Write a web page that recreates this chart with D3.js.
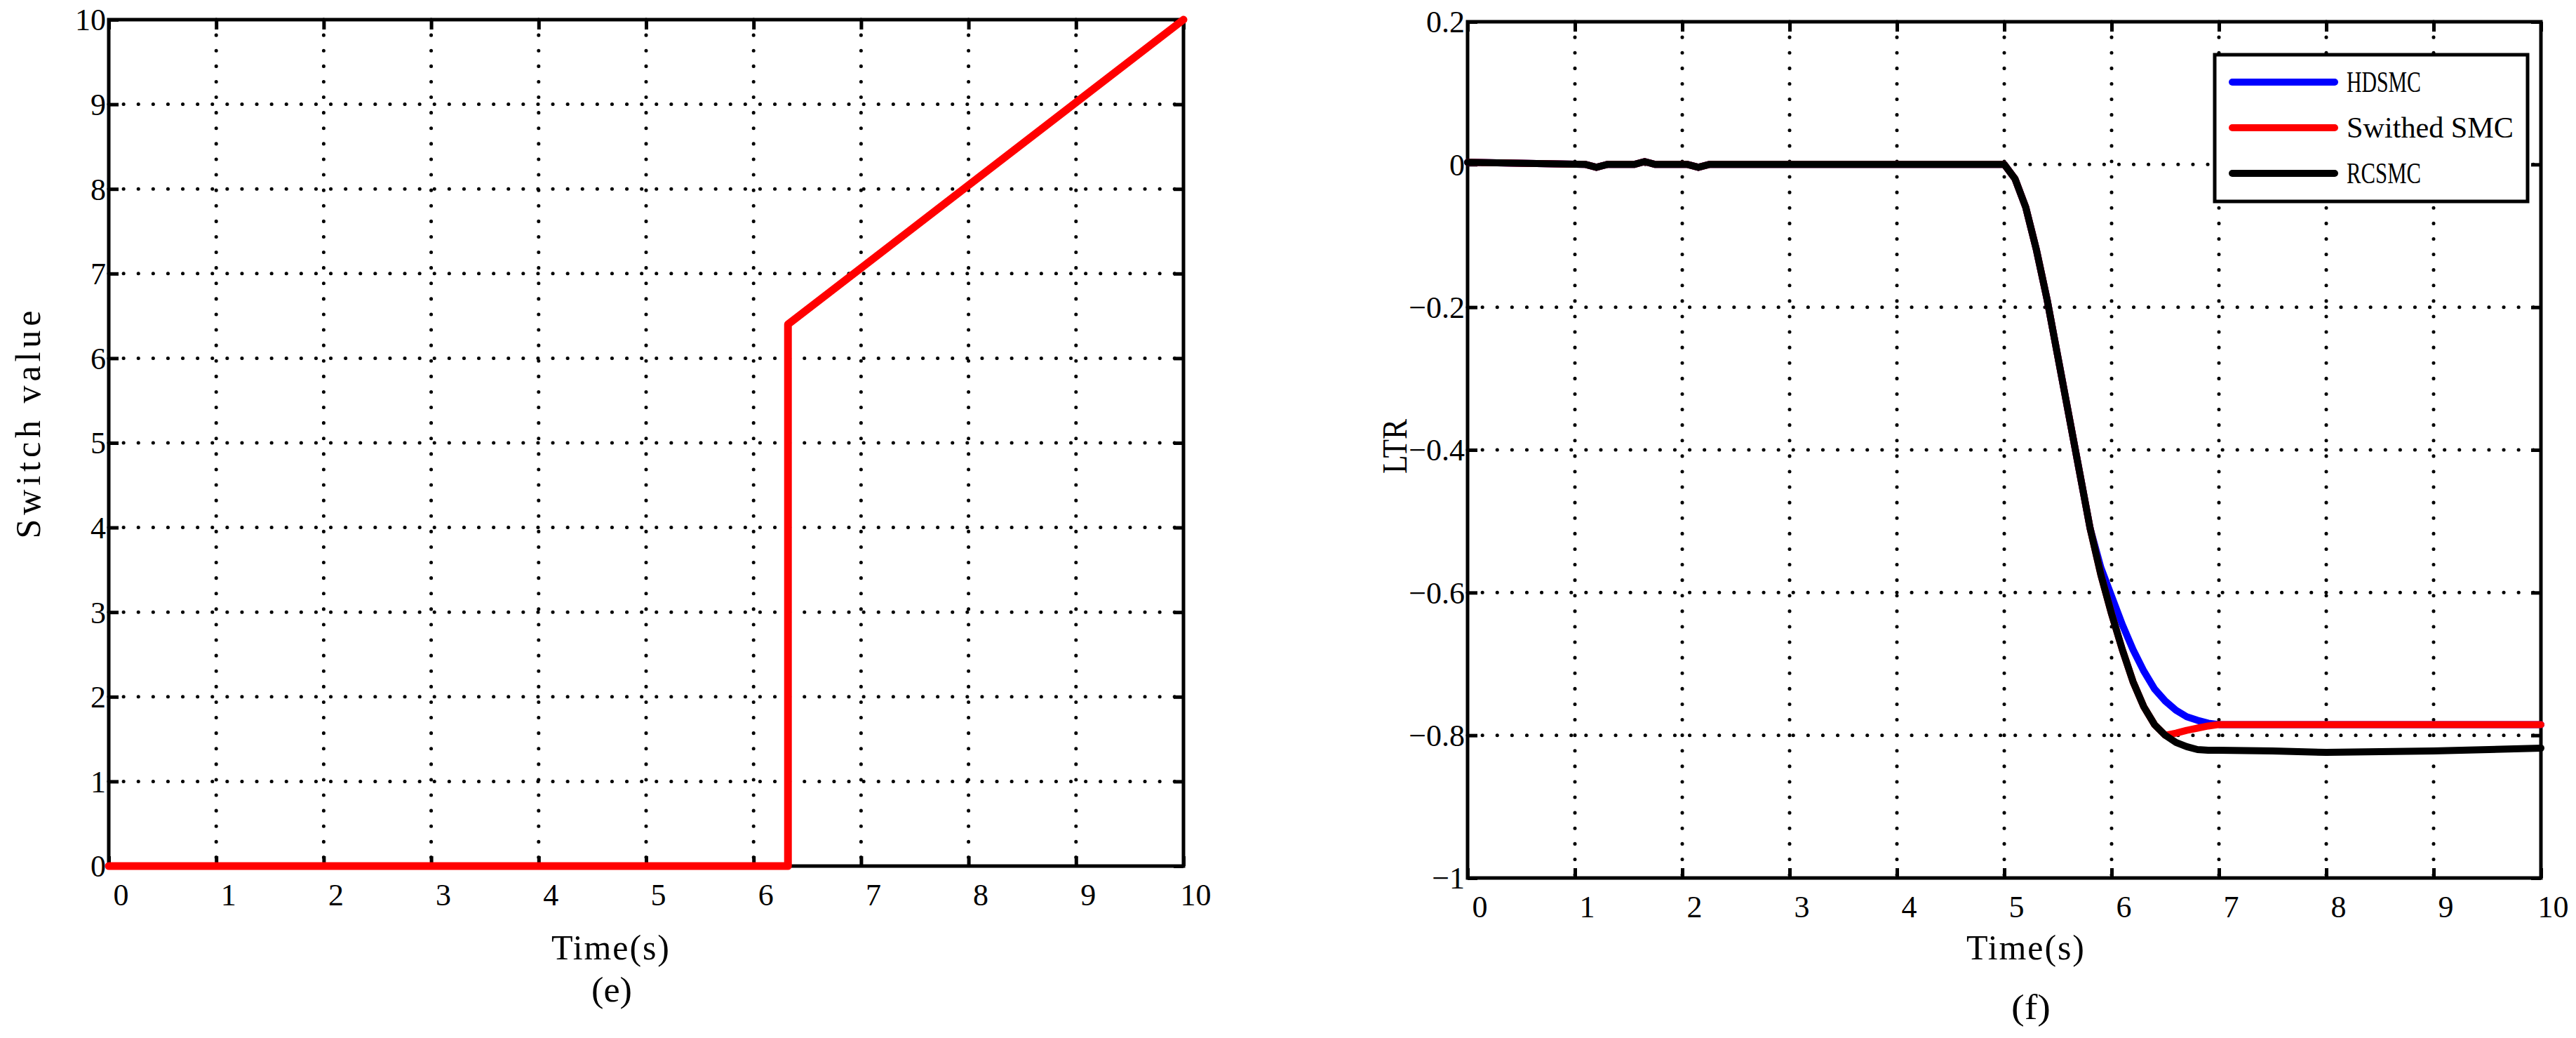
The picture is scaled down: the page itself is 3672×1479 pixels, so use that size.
<!DOCTYPE html>
<html><head><meta charset="utf-8">
<script src="https://cdn.jsdelivr.net/npm/d3@7"></script>
<style>
html,body{margin:0;padding:0;background:#fff;}
svg{display:block;}
text{font-family:"Liberation Serif","DejaVu Serif",serif;fill:#000;}
</style></head><body>
<svg id="chart" width="3672" height="1479"></svg>
<script>
// ---- data: panel (e) ----
const switchTime = [0, 6.32, 6.32, 10];
const switchValue = [0, 0, 6.4, 10];
const eXTicks = [0,1,2,3,4,5,6,7,8,9,10];
const eYTicks = [0,1,2,3,4,5,6,7,8,9,10];

// ---- data: panel (f) ----
const ltrTime = [0, 1.1, 1.2, 1.3, 1.55, 1.65, 1.75, 2.05, 2.15, 2.25, 4, 5,
  5.1, 5.2, 5.3, 5.4, 5.5, 5.6, 5.7, 5.8, 5.9, 6.0, 6.1, 6.2, 6.3, 6.4, 6.5,
  6.6, 6.7, 6.8, 6.9, 7.0, 7.5, 8.0, 9.0, 10];
const hdsmc = [0.003, 0, -0.004, 0, 0, 0.004, 0, 0, -0.004, 0, 0, 0,
  -0.02, -0.06, -0.12, -0.19, -0.27, -0.35, -0.43, -0.51, -0.565, -0.605, -0.645, -0.68, -0.71, -0.735, -0.752,
  -0.765, -0.774, -0.779, -0.783, -0.785, -0.785, -0.785, -0.785, -0.785];
const switchedSmc = [0.003, 0, -0.004, 0, 0, 0.004, 0, 0, -0.004, 0, 0, 0,
  -0.02, -0.06, -0.12, -0.19, -0.27, -0.35, -0.43, -0.51, -0.575, -0.63, -0.68, -0.725, -0.76, -0.785, -0.80,
  -0.797, -0.793, -0.79, -0.787, -0.785, -0.785, -0.785, -0.785, -0.785];
const rcsmc = [0.003, 0, -0.004, 0, 0, 0.004, 0, 0, -0.004, 0, 0, 0,
  -0.02, -0.06, -0.12, -0.19, -0.27, -0.35, -0.43, -0.51, -0.575, -0.63, -0.68, -0.725, -0.76, -0.785, -0.80,
  -0.81, -0.816, -0.82, -0.821, -0.821, -0.822, -0.824, -0.822, -0.818];
const seriesNames = ["HDSMC", "Swithed SMC", "RCSMC"];
const seriesColors = ["#0000ff", "#ff0000", "#000000"];
const fXTicks = [0,1,2,3,4,5,6,7,8,9,10];
const fYTicks = [0.2, 0, -0.2, -0.4, -0.6, -0.8, -1];

const svg = d3.select("#chart");

function fmt(v){ return (v < 0 ? "\u2212" : "") + Math.abs(v).toString(); }

function label(g, x, y, txt, len, rot, adj){
  return g.append("text")
    .attr("transform", `translate(${x},${y})` + (rot ? " rotate(-90)" : ""))
    .attr("text-anchor","middle").attr("dominant-baseline","central")
    .attr("font-size",50).attr("textLength",len).attr("lengthAdjust",adj || "spacing").text(txt);
}

function panel(opts){
  const {x0,x1,y0,y1,xDomain,yDomain,xTicks,yTicks,ylabel,ylabelX,ylabelY,ylabelLen,ylabelAdj,
    xlabelX,xlabelY,capX,capY,caption,capLen} = opts;
  const g = svg.append("g");
  const x = d3.scaleLinear().domain(xDomain).range([x0,x1]);
  const y = d3.scaleLinear().domain(yDomain).range([y1,y0]);
  // grid
  const gx = xTicks.filter(t => t !== xDomain[0] && t !== xDomain[1]);
  const gy = yTicks.filter(t => t !== yDomain[0] && t !== yDomain[1]);
  g.selectAll(".gv").data(gx).join("line")
    .attr("x1", d=>x(d)).attr("x2", d=>x(d)).attr("y1", y0).attr("y2", y1)
    .attr("stroke","#000").attr("stroke-width",5).attr("stroke-linecap","round")
    .attr("stroke-dasharray","0.1 22");
  g.selectAll(".gh").data(gy).join("line")
    .attr("y1", d=>y(d)).attr("y2", d=>y(d)).attr("x1", x0).attr("x2", x1)
    .attr("stroke","#000").attr("stroke-width",5).attr("stroke-linecap","round")
    .attr("stroke-dasharray","0.1 21");
  // axes (inward ticks, box)
  const tl = 14;
  const axB = g.append("g").attr("transform",`translate(0,${y1})`)
    .call(d3.axisBottom(x).tickValues(xTicks).tickSizeInner(-tl).tickSizeOuter(0).tickFormat(fmt));
  const axT = g.append("g").attr("transform",`translate(0,${y0})`)
    .call(d3.axisTop(x).tickValues(xTicks).tickSizeInner(-tl).tickSizeOuter(0).tickFormat(""));
  const axL = g.append("g").attr("transform",`translate(${x0},0)`)
    .call(d3.axisLeft(y).tickValues(yTicks).tickSizeInner(-tl).tickSizeOuter(0).tickFormat(fmt));
  const axR = g.append("g").attr("transform",`translate(${x1},0)`)
    .call(d3.axisRight(y).tickValues(yTicks).tickSizeInner(-tl).tickSizeOuter(0).tickFormat(""));
  [axB,axT,axL,axR].forEach(a=>{
    a.select(".domain").remove();
    a.selectAll(".tick line").attr("stroke","#000").attr("stroke-width",5);
  });
  axB.selectAll(".tick text").attr("font-size",44).attr("font-family","Liberation Serif")
    .attr("dy",0).attr("y",56).attr("dx",17);
  axL.selectAll(".tick text").attr("font-size",44).attr("font-family","Liberation Serif")
    .attr("x",-4).attr("dy","0.34em");
  g.append("rect").attr("x",x0).attr("y",y0).attr("width",x1-x0).attr("height",y1-y0)
    .attr("fill","none").attr("stroke","#000").attr("stroke-width",5);
  // labels
  label(g, ylabelX, ylabelY, ylabel, ylabelLen, true, ylabelAdj);
  label(g, xlabelX, xlabelY, "Time(s)", 168, false);
  label(g, capX, capY, caption, capLen, false, "spacingAndGlyphs");
  return {g,x,y};
}

// Panel (e)
const pe = panel({x0:155,x1:1687,y0:28,y1:1234,xDomain:[0,10],yDomain:[0,10],
  xTicks:eXTicks,yTicks:eYTicks,ylabel:"Switch value",ylabelX:40,ylabelY:605,ylabelLen:325,
  xlabelX:870,xlabelY:1350,capX:872,capY:1410,caption:"(e)",capLen:58});
const lineE = d3.line().x((d,i)=>pe.x(switchTime[i])).y(d=>pe.y(d));
pe.g.append("path").attr("d", lineE(switchValue)).attr("fill","none")
  .attr("stroke","#ff0000").attr("stroke-width",11)
  .attr("stroke-linejoin","round").attr("stroke-linecap","round");

// Panel (f)
const pf = panel({x0:2092,x1:3622,y0:31,y1:1251,xDomain:[0,10],yDomain:[-1,0.2],
  xTicks:fXTicks,yTicks:fYTicks,ylabel:"LTR",ylabelX:1988,ylabelY:636,ylabelLen:78,ylabelAdj:"spacingAndGlyphs",
  xlabelX:2887,xlabelY:1350,capX:2895,capY:1435,caption:"(f)",capLen:56});
const lineF = d3.line().x((d,i)=>pf.x(ltrTime[i])).y(d=>pf.y(d));
[hdsmc, switchedSmc, rcsmc].forEach((s,k)=>{
  pf.g.append("path").attr("d", lineF(s)).attr("fill","none")
    .attr("stroke",seriesColors[k]).attr("stroke-width",10)
    .attr("stroke-linejoin","round").attr("stroke-linecap","round");
});
// legend
const lg = pf.g.append("g");
lg.append("rect").attr("x",3157).attr("y",78).attr("width",446).attr("height",209)
  .attr("fill","#fff").attr("stroke","#000").attr("stroke-width",5);
const rows = [117,182,247];
seriesNames.forEach((n,k)=>{
  lg.append("line").attr("x1",3182).attr("x2",3328).attr("y1",rows[k]).attr("y2",rows[k])
    .attr("stroke",seriesColors[k]).attr("stroke-width",10).attr("stroke-linecap","round");
  lg.append("text").attr("x",3345).attr("y",rows[k]).attr("dominant-baseline","central")
    .attr("font-size",42).attr("textLength",n.length*22 - 4).attr("lengthAdjust","spacingAndGlyphs").text(n);
});
</script>
</body></html>
